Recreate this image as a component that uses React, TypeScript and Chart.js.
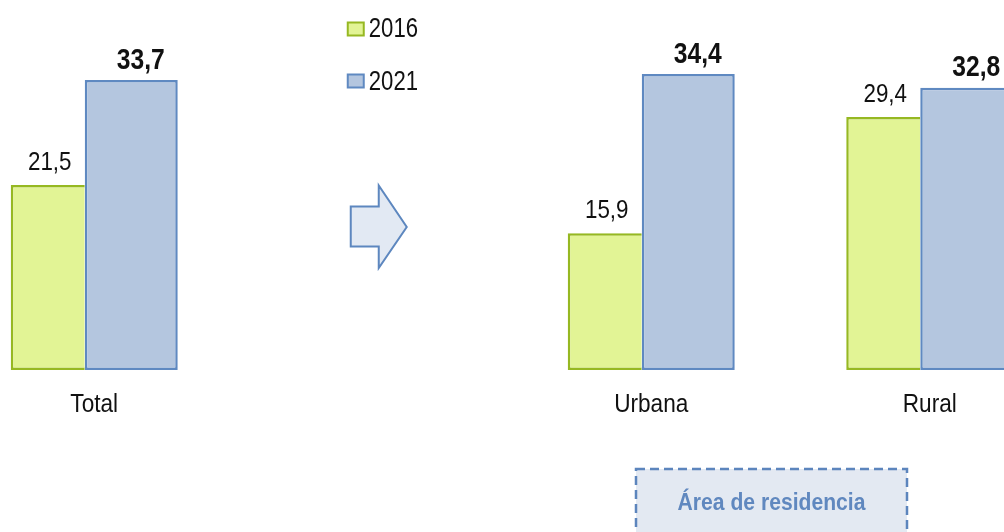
import React, { useEffect, useRef } from "react";
import { Chart, registerables } from "chart.js";

Chart.register(...registerables);

const categories = ["Total", "", "Urbana", "Rural"];
const values2016: (number | null)[] = [21.5, null, 15.9, 29.4];
const values2021: (number | null)[] = [33.7, null, 34.4, 32.8];
const seriesLabels = ["2016", "2021"];
const groupTitle = "Área de residencia";

const GREEN_FILL = "#e2f495";
const GREEN_BORDER = "#96b822";
const BLUE_FILL = "#b4c6df";
const BLUE_BORDER = "#5f89c1";
const TEXT = "#111111";
const FONT = "'Liberation Sans', Arial, sans-serif";

const CANVAS_W = 1114;
const CANVAS_H = 532;
const SHIFT = 45;

function drawText(
  ctx: CanvasRenderingContext2D,
  text: string,
  x: number,
  y: number,
  font: string,
  color: string,
  sx: number,
  align: CanvasTextAlign
) {
  ctx.save();
  ctx.font = font;
  ctx.fillStyle = color;
  ctx.textBaseline = "alphabetic";
  ctx.textAlign = align;
  ctx.translate(x, y);
  ctx.scale(sx, 1);
  ctx.fillText(text, 0, 0);
  ctx.restore();
}

const fmt = (v: number) => v.toFixed(1).replace(".", ",");

const decorPlugin = {
  id: "decor",
  afterDatasetsDraw(chart: any) {
    const ctx: CanvasRenderingContext2D = chart.ctx;
    const xs = chart.scales.x;

    // value labels
    chart.data.datasets.forEach((ds: any, di: number) => {
      const meta = chart.getDatasetMeta(di);
      meta.data.forEach((el: any, i: number) => {
        const v = ds.data[i];
        if (v === null || v === undefined) return;
        if (di === 0) {
          drawText(ctx, fmt(v), el.x + 2, el.y - 15.5, `400 26px ${FONT}`, TEXT, 0.86, "center");
        } else {
          drawText(ctx, fmt(v), el.x + 9.5, el.y - 11.5, `700 29px ${FONT}`, TEXT, 0.85, "center");
        }
      });
    });

    // category labels
    categories.forEach((c, i) => {
      if (!c) return;
      drawText(ctx, c, xs.getPixelForValue(i), 412, `400 26px ${FONT}`, TEXT, 0.87, "center");
    });

    const a = xs.getPixelForValue(1);

    // legend
    const legendColors = [
      [GREEN_FILL, GREEN_BORDER],
      [BLUE_FILL, BLUE_BORDER],
    ];
    seriesLabels.forEach((lab, i) => {
      const top = 22.5 + i * 52;
      ctx.save();
      ctx.fillStyle = legendColors[i][0];
      ctx.strokeStyle = legendColors[i][1];
      ctx.lineWidth = 2;
      ctx.fillRect(a - 25, top, 16, 13);
      ctx.strokeRect(a - 25, top, 16, 13);
      ctx.restore();
      drawText(ctx, lab, a - 4, 37 + i * 53, `400 27px ${FONT}`, TEXT, 0.82, "left");
    });

    // arrow
    ctx.save();
    ctx.beginPath();
    ctx.moveTo(a - 22, 206.5);
    ctx.lineTo(a + 6, 206.5);
    ctx.lineTo(a + 6, 185.5);
    ctx.lineTo(a + 34, 227);
    ctx.lineTo(a + 6, 268);
    ctx.lineTo(a + 6, 246.5);
    ctx.lineTo(a - 22, 246.5);
    ctx.closePath();
    ctx.fillStyle = "#e2e9f3";
    ctx.fill();
    ctx.lineWidth = 2;
    ctx.strokeStyle = "#5d87bf";
    ctx.lineJoin = "miter";
    ctx.stroke();
    ctx.restore();

    // dashed box
    const mid = (xs.getPixelForValue(2) + xs.getPixelForValue(3)) / 2 - 19;
    const bw = 271;
    ctx.save();
    ctx.fillStyle = "#e3e9f2";
    ctx.fillRect(mid - bw / 2, 469, bw, 80);
    ctx.setLineDash([9, 5]);
    ctx.lineWidth = 2.5;
    ctx.strokeStyle = "#5c85bd";
    ctx.strokeRect(mid - bw / 2, 469, bw, 80);
    ctx.restore();
    drawText(ctx, groupTitle, mid, 510, `700 24px ${FONT}`, "#6088bf", 0.88, "center");
  },
};

export default function App() {
  const ref = useRef<HTMLCanvasElement | null>(null);

  useEffect(() => {
    if (!ref.current) return;
    const chart = new Chart(ref.current, {
      type: "bar",
      data: {
        labels: categories,
        datasets: [
          {
            label: seriesLabels[0],
            data: values2016,
            backgroundColor: GREEN_FILL,
            borderColor: GREEN_BORDER,
            borderWidth: { top: 2.5, left: 2.5, bottom: 2.5, right: 0 },
            borderSkipped: false,
            categoryPercentage: 0.6679,
            barPercentage: 0.7957,
          },
          {
            label: seriesLabels[1],
            data: values2021,
            backgroundColor: BLUE_FILL,
            borderColor: BLUE_BORDER,
            borderWidth: 2.5,
            borderSkipped: false,
            categoryPercentage: 0.5314,
            barPercentage: 1.2568,
          },
        ],
      },
      options: {
        responsive: false,
        animation: false,
        devicePixelRatio: 1,
        layout: { padding: { left: 0, right: 0, top: 0, bottom: CANVAS_H - 370 } },
        scales: {
          x: { display: false, offset: true, grid: { display: false } },
          y: { display: false, min: 0, max: 43 },
        },
        plugins: {
          legend: { display: false },
          tooltip: { enabled: false },
        },
      },
      plugins: [decorPlugin],
    } as any);
    return () => chart.destroy();
  }, []);

  return (
    <div
      style={{
        position: "fixed",
        left: 0,
        top: 0,
        width: 1004,
        height: 532,
        overflow: "hidden",
        background: "#ffffff",
      }}
    >
      <div style={{ position: "absolute", left: -SHIFT, top: 0, width: CANVAS_W, height: CANVAS_H }}>
        <canvas ref={ref} width={CANVAS_W} height={CANVAS_H} style={{ width: CANVAS_W, height: CANVAS_H }} />
      </div>
    </div>
  );
}
